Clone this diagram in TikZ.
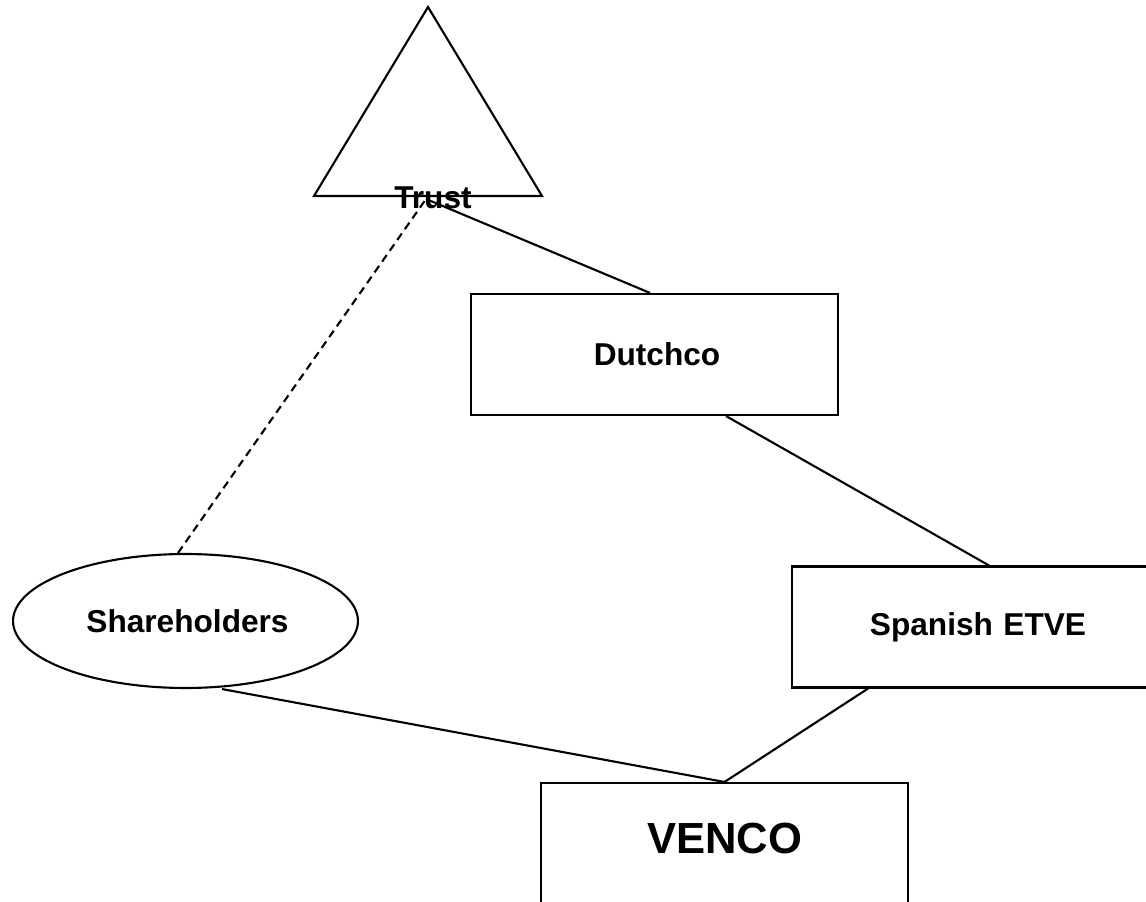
\documentclass[tikz,border=0pt]{standalone}
\usepackage{fontspec}
\setmainfont{Liberation Sans}
\usetikzlibrary{shapes.geometric}
\begin{document}
\begin{tikzpicture}[
    x=0.02cm, y=-0.02cm,
    line width=1.2pt,
    label/.style={font=\bfseries\fontsize{18}{21}\selectfont},
    entity/.style={rectangle, draw, label, minimum width=7.34cm, minimum height=2.42cm, inner sep=0pt},
    holder/.style={ellipse, draw, label, minimum width=6.9cm, minimum height=2.68cm, inner sep=0pt},
    link/.style={draw, line width=1.2pt},
    owner/.style={link, dash pattern=on 4.5pt off 3pt},
]
    \clip (0,0) rectangle (1146,902);

    % Trust
    \draw (428,7) -- (314,196) -- (542,196) -- cycle;
    \coordinate (trustpt) at (426,199);
    \node[label, inner sep=0pt] (trust) at (433,198) {Trust};

    % Companies
    \node[entity, text width=7.34cm, align=center] (dutch) at (654.5,354.5) {\hspace*{0.1cm}Dutchco};
    \node[entity, text width=7.34cm, align=center] (etve) at (975.5,627) {\hspace*{0.1cm}Spanish ETVE};
    \node[entity, font=\bfseries\fontsize{24.8}{28}\selectfont, text depth=0.2cm] (venco) at (724.5,843.5) {VENCO};

    % Shareholders
    \node[holder] (share) at (185.5,621) {\hspace*{0.08cm}Shareholders};

    % Connections
    \draw[link] (trustpt) -- ([xshift=-0.09cm]dutch.north);
    \draw[link] ([xshift=1.43cm]dutch.south) -- ([xshift=0.27cm]etve.north);
    \draw[link] ([xshift=-2.15cm]etve.south) -- (venco.north);
    \draw[link] ([xshift=0.73cm]share.south) -- (venco.north);
    \draw[owner] ([xshift=-0.15cm]share.north) -- (trustpt);
\end{tikzpicture}
\end{document}
